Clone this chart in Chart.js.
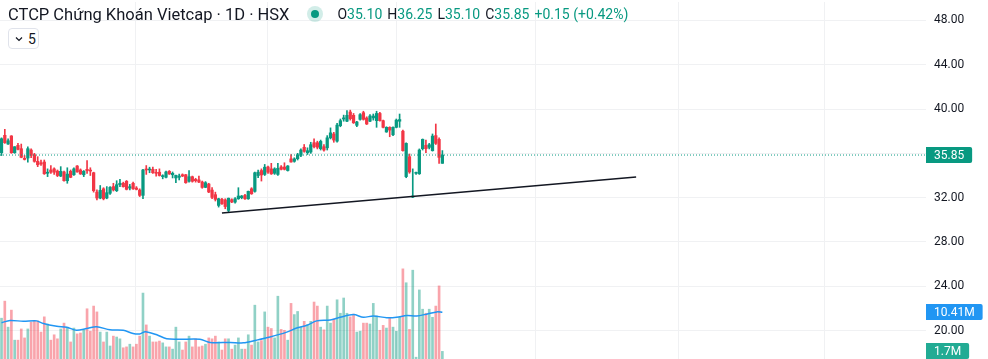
<!DOCTYPE html>
<html>
<head>
<meta charset="utf-8">
<script src="https://cdn.jsdelivr.net/npm/chart.js@4.4.0/dist/chart.umd.min.js"></script>
<style>
  body { margin: 0; background: #fff; font-family: Roboto, "Noto Sans", sans-serif; }
  #wrap { position: relative; width: 988px; height: 359px; }
  canvas { display: block; }
  #legend { position: absolute; left: 8px; top: 4px; height: 20px; display: flex; align-items: center; color: #131722; white-space: nowrap; }
  #legend .title { font-size: 16.5px; }
  #legend .dot { width: 16px; height: 16px; border-radius: 50%; background: rgba(8,153,129,0.18); margin-left: 18px; position: relative; }
  #legend .dot::after { content: ""; position: absolute; left: 4px; top: 4px; width: 8px; height: 8px; border-radius: 50%; background: #089981; }
  #legend .ohlc { font-size: 14px; margin-left: 14px; }
  #legend .ohlc .v { color: #089981; margin-right: 5px; }
  #ind { position: absolute; left: 8px; top: 28px; width: 29px; height: 19px; border: 1px solid #e0e3eb; border-radius: 4px; font-size: 14px; color: #131722; display: flex; align-items: center; background: #fff; }
  #ind svg { margin-left: 6px; margin-right: 5px; }
</style>
</head>
<body>
<div id="wrap">
  <canvas id="chart" width="988" height="359"></canvas>
  <div id="legend">
    <span class="title">CTCP Chứng Khoán Vietcap · 1D · HSX</span>
    <span class="dot"></span>
    <span class="ohlc">O<span class="v">35.10</span>H<span class="v">36.25</span>L<span class="v">35.10</span>C<span class="v">35.85</span><span class="v">+0.15 (+0.42%)</span></span>
  </div>
  <div id="ind"><svg width="8" height="6" viewBox="0 0 8 6"><polyline points="1,1.5 4,4.5 7,1.5" fill="none" stroke="#131722" stroke-width="1.2"/></svg>5</div>
</div>
<script>
// -----------------------------
// Data (daily candles, price in thousand VND, volume in millions)
// -----------------------------
const candleOpen = [
  36.06, 37.63, 36.84, 37.57, 36.06, 36.72, 36.42, 35.55, 35.58, 36.30,
  35.88, 35.28, 35.15, 35.22, 34.20, 34.50, 34.60, 34.40, 33.95, 34.32,
  33.53, 34.38, 34.07, 34.86, 34.50, 34.07, 34.56, 34.48, 34.25, 32.51,
  31.97, 32.80, 31.97, 32.40, 33.00, 32.63, 33.17, 33.30, 33.48, 32.87,
  33.30, 32.87, 32.69, 32.21, 34.56, 34.50, 34.56, 34.25, 34.30, 33.90,
  33.84, 34.38, 34.07, 33.78, 33.84, 34.07, 34.07, 33.48, 33.89, 33.65,
  33.60, 33.41, 32.93, 33.23, 32.69, 32.27, 31.30, 31.85, 31.80, 30.85,
  31.82, 31.60, 31.90, 32.00, 32.20, 31.90, 32.80, 32.57, 34.00, 34.45,
  34.10, 34.77, 34.60, 34.20, 34.10, 34.77, 34.77, 34.45, 35.50, 35.28,
  35.52, 35.82, 36.55, 36.06, 36.12, 36.96, 36.96, 36.42, 36.60, 36.50,
  37.40, 37.75, 37.10, 38.50, 39.10, 38.90, 39.73, 39.43, 38.53, 39.07,
  39.67, 39.19, 38.90, 39.20, 38.95, 39.60, 38.95, 37.93, 38.35, 37.68,
  38.35, 38.90, 38.00, 33.90, 35.70, 32.05, 34.20, 34.16, 36.42, 36.72,
  36.54, 36.24, 37.60, 37.26, 35.10
];
const candleHigh = [
  37.40, 38.17, 37.30, 37.60, 36.60, 36.90, 36.84, 35.80, 36.60, 36.40,
  36.00, 35.70, 35.40, 35.40, 34.60, 34.90, 34.70, 34.50, 34.80, 34.40,
  34.70, 34.50, 34.70, 34.90, 34.60, 34.45, 35.34, 34.70, 34.30, 32.70,
  33.10, 32.90, 33.00, 33.00, 33.30, 33.53, 33.65, 33.40, 33.55, 33.20,
  33.40, 33.00, 32.80, 34.55, 34.90, 34.75, 34.75, 34.56, 34.60, 34.07,
  34.40, 34.45, 34.32, 34.05, 34.13, 34.15, 34.10, 34.44, 33.95, 33.75,
  33.95, 33.50, 33.45, 33.30, 32.90, 32.50, 31.95, 31.95, 31.90, 31.97,
  31.90, 32.00, 32.90, 32.20, 32.30, 32.60, 32.90, 34.30, 34.50, 34.60,
  35.00, 34.85, 35.10, 34.70, 35.10, 34.90, 35.15, 34.90, 35.90, 35.60,
  36.00, 36.40, 36.80, 36.50, 37.00, 37.32, 37.10, 37.20, 36.80, 37.60,
  38.30, 37.90, 38.70, 39.10, 39.45, 39.85, 39.90, 39.60, 38.90, 39.60,
  39.80, 39.30, 39.50, 39.55, 39.80, 39.70, 39.00, 38.40, 38.40, 38.40,
  39.10, 39.55, 38.10, 36.95, 35.94, 34.60, 34.30, 36.40, 37.30, 37.20,
  36.90, 37.75, 38.65, 37.40, 36.25
];
const candleLow = [
  35.80, 36.90, 36.80, 36.00, 36.00, 36.30, 35.60, 35.40, 35.20, 35.60,
  35.20, 34.80, 34.90, 34.10, 33.90, 34.20, 34.10, 33.90, 33.90, 33.50,
  33.30, 33.80, 34.00, 34.30, 34.10, 33.90, 34.20, 34.00, 32.50, 31.80,
  31.90, 31.80, 31.90, 32.30, 32.60, 32.55, 32.99, 32.95, 32.70, 32.70,
  32.75, 32.70, 32.10, 31.90, 34.10, 34.25, 34.20, 33.95, 33.95, 33.70,
  33.78, 34.10, 33.78, 33.35, 33.60, 33.90, 33.30, 33.40, 33.40, 33.40,
  33.35, 32.85, 32.90, 32.45, 31.90, 31.70, 31.15, 31.40, 31.00, 30.70,
  31.55, 31.50, 31.85, 31.90, 31.85, 31.85, 32.30, 32.50, 33.80, 33.50,
  34.00, 34.20, 34.10, 34.10, 34.00, 34.50, 34.50, 34.40, 35.20, 35.20,
  35.40, 35.70, 36.10, 35.90, 36.00, 36.50, 36.40, 36.30, 36.20, 36.30,
  37.30, 37.00, 37.00, 38.40, 38.90, 38.85, 39.00, 38.70, 38.40, 39.00,
  39.00, 38.60, 38.85, 39.00, 38.35, 38.90, 38.30, 37.90, 37.50, 37.60,
  38.30, 38.35, 36.20, 33.80, 34.20, 32.00, 34.10, 34.10, 36.30, 36.06,
  36.40, 36.20, 36.80, 35.10, 35.10
];
const candleClose = [
  37.32, 36.96, 37.14, 36.06, 36.60, 36.36, 35.64, 35.45, 36.42, 35.82,
  35.28, 34.97, 35.04, 34.16, 34.30, 34.30, 34.30, 34.00, 34.38, 33.53,
  34.13, 33.84, 34.60, 34.32, 34.14, 34.38, 34.44, 34.40, 32.63, 31.97,
  32.66, 31.90, 32.45, 32.93, 32.70, 33.17, 33.30, 32.99, 32.75, 32.99,
  32.80, 32.75, 32.21, 34.50, 34.50, 34.56, 34.25, 34.20, 34.00, 33.95,
  34.32, 34.14, 34.20, 34.01, 33.95, 33.95, 33.35, 33.89, 33.48, 33.53,
  33.41, 32.93, 33.35, 32.51, 32.03, 31.85, 31.90, 31.45, 31.20, 31.95,
  31.61, 31.90, 32.15, 32.15, 31.90, 32.57, 32.35, 34.25, 34.30, 34.05,
  34.75, 34.30, 34.15, 34.60, 34.65, 34.56, 34.56, 34.86, 35.22, 35.50,
  35.88, 36.30, 36.18, 36.24, 36.78, 36.60, 36.55, 37.08, 36.30, 37.40,
  37.85, 37.20, 38.55, 38.95, 39.20, 39.43, 39.13, 38.76, 38.83, 39.49,
  39.07, 38.65, 39.37, 39.37, 39.60, 38.95, 38.35, 38.35, 38.10, 38.35,
  39.00, 39.05, 36.24, 36.90, 34.32, 32.15, 34.20, 36.30, 37.26, 36.42,
  36.78, 37.56, 36.90, 35.64, 35.85
];
const volumeM = [
  9.1, 12.9, 7.1, 10.9, 4.2, 4.2, 6.7, 4.7, 6.7, 8.2,
  8.5, 8.5, 6.0, 9.4, 7.8, 4.2, 5.4, 4.5, 6.7, 8.0,
  7.1, 3.8, 6.9, 5.6, 5.8, 6.5, 11.2, 6.2, 11.8, 10.5,
  6.0, 3.8, 6.0, 2.9, 5.1, 4.9, 4.5, 2.5, 2.7, 3.3,
  2.7, 3.3, 5.1, 14.7, 7.6, 5.1, 3.8, 3.8, 4.0, 3.6,
  2.7, 2.7, 2.2, 7.1, 3.8, 2.0, 3.8, 5.1, 2.7, 4.5,
  2.7, 2.9, 3.3, 4.7, 4.5, 5.1, 3.8, 2.0, 4.5, 4.5,
  2.2, 3.1, 4.7, 2.2, 2.2, 5.4, 3.1, 12.0, 3.8, 4.1,
  10.5, 7.1, 6.8, 4.7, 14.0, 6.6, 6.4, 4.2, 12.4, 9.9,
  10.6, 7.1, 8.4, 7.7, 8.4, 12.7, 11.8, 7.1, 6.5, 11.8,
  8.0, 8.9, 13.2, 10.2, 13.6, 10.2, 9.4, 10.0, 6.0, 6.2,
  8.0, 8.0, 7.8, 12.4, 9.6, 6.4, 7.5, 6.9, 9.1, 7.1,
  6.2, 9.3, 20.1, 17.0, 6.6, 19.8, 0.4, 15.4, 11.1, 10.2,
  11.1, 9.3, 11.8, 16.3, 1.7
];
// volume moving average at these bar positions
const maBar = [0, 2.6, 6.6, 10.7, 12.7, 16.8, 19.8, 22.8, 25.9, 28.9, 33, 37, 40, 42, 43.7, 47.2, 50.2, 54.2, 60.3, 63.4,
  69.5, 73.5, 77.5, 81.6, 86.7, 89.7, 92.8, 95.8, 99.9, 102.9, 107, 110, 113, 117.1, 120.1, 123.2, 126.2, 129.2, 132.3, 134];
const maValue = [8.1, 8.6, 8.4, 8.5, 7.9, 7.3, 7.1, 6.4, 6.8, 7.2, 6.5, 6.4, 5.7, 5.6, 6.1, 5.4, 4.5, 4.4, 4.4, 3.7,
  3.7, 3.6, 4.2, 4.9, 6.0, 6.9, 7.5, 8.5, 8.7, 9.3, 9.9, 9.3, 9.6, 9.2, 9.3, 9.7, 9.6, 10.0, 10.5, 10.41];
// hand-drawn trend line (bar position, price)
const trendBar = [67.0, 192.9];
const trendPrice = [30.62, 33.86];
const priceTicks = [20, 24, 28, 32, 36, 40, 44, 48];
const monthLines = [19.0, 62.2, 99.2, 140.9, 183.7, 228.1, 272.5];

const UP = "#089981", DOWN = "#f23645";
const GRID = "#f0f1f3";
const X_MIN = -0.46, X_MAX = 281;

const bars = candleOpen.map((o, i) => i);
const isUp = bars.map(i => candleClose[i] >= candleOpen[i]);
const last = bars.length - 1;
const lastClose = candleClose[last];
const lastMa = maValue[maValue.length - 1];
const lastVol = volumeM[last];

// -----------------------------
// Right side value labels
// -----------------------------
const valueLabels = {
  id: "valueLabels",
  afterDraw(chart) {
    const ctx = chart.ctx;
    const left = chart.chartArea.right;
    const items = [
      { y: chart.scales.y.getPixelForValue(lastClose), text: lastClose.toFixed(2), bg: UP },
      { y: chart.scales.vol.getPixelForValue(lastMa), text: lastMa.toFixed(2) + "M", bg: "#2196f3" },
      { y: chart.scales.vol.getPixelForValue(lastVol), text: lastVol.toFixed(1) + "M", bg: "#22ab94" }
    ];
    ctx.save();
    ctx.font = "12px Roboto, 'Noto Sans', sans-serif";
    ctx.textBaseline = "middle";
    items.forEach(it => {
      const w = ctx.measureText(it.text).width + 16;
      ctx.fillStyle = it.bg;
      ctx.beginPath();
      ctx.roundRect(left, Math.round(it.y) - 8, w, 16, [0, 2, 2, 0]);
      ctx.fill();
      ctx.fillStyle = "#fff";
      ctx.fillText(it.text, left + 8, Math.round(it.y) + 0.5);
    });
    ctx.restore();
  }
};

// no extra room for edge labels: the price pane runs edge to edge
function noEdgePadding(s) {
  s.paddingTop = 0;
  s.paddingBottom = 0;
  s.paddingLeft = 0;
  s.paddingRight = 0;
}

const ctx = document.getElementById("chart").getContext("2d");
const chart = new Chart(ctx, {
  type: "bar",
  data: {
    datasets: [
      {
        type: "line",
        label: "last",
        data: [{ x: X_MIN, y: lastClose }, { x: X_MAX, y: lastClose }],
        borderColor: UP,
        borderWidth: 1,
        borderDash: [1, 2],
        pointRadius: 0,
        yAxisID: "y",
        order: 0
      },
      {
        type: "line",
        label: "trend",
        data: trendBar.map((b, k) => ({ x: b, y: trendPrice[k] })),
        borderColor: "#131722",
        borderWidth: 1.5,
        pointRadius: 0,
        yAxisID: "y",
        order: 1
      },
      {
        label: "body",
        data: bars.map(i => ({ x: i, y: [candleOpen[i], candleClose[i]] })),
        backgroundColor: bars.map(i => isUp[i] ? UP : DOWN),
        barThickness: 2.6,
        minBarLength: 1,
        grouped: false,
        yAxisID: "y",
        order: 2
      },
      {
        label: "wick",
        data: bars.map(i => ({ x: i, y: [candleLow[i], candleHigh[i]] })),
        backgroundColor: bars.map(i => isUp[i] ? UP : DOWN),
        barThickness: 1,
        grouped: false,
        yAxisID: "y",
        order: 3
      },
      {
        type: "line",
        label: "Vol MA",
        data: maBar.map((b, k) => ({ x: b, y: maValue[k] })),
        borderColor: "#2196f3",
        borderWidth: 1.5,
        pointRadius: 0,
        tension: 0.3,
        yAxisID: "vol",
        order: 4
      },
      {
        label: "Volume",
        data: bars.map(i => ({ x: i, y: volumeM[i] })),
        backgroundColor: bars.map(i => isUp[i] ? "rgba(8,153,129,0.45)" : "rgba(242,54,69,0.45)"),
        barThickness: 2,
        grouped: false,
        yAxisID: "vol",
        order: 5
      }
    ]
  },
  options: {
    responsive: false,
    animation: false,
    layout: { padding: { left: 0, right: 0, top: 2, bottom: 0 } },
    plugins: { legend: { display: false }, tooltip: { enabled: false } },
    scales: {
      x: {
        type: "linear",
        min: X_MIN,
        max: X_MAX,
        offset: false,
        afterBuildTicks: s => { s.ticks = monthLines.map(v => ({ value: v })); },
        afterFit: s => { noEdgePadding(s); s.height = 0; },
        ticks: { display: false },
        grid: { color: GRID, drawTicks: false },
        border: { display: false }
      },
      y: {
        position: "right",
        min: 17.44,
        max: 49.66,
        afterBuildTicks: s => { s.ticks = priceTicks.map(v => ({ value: v })); },
        afterFit: s => { noEdgePadding(s); s.width = 62; },
        ticks: {
          color: "#131722",
          font: { size: 12, family: "Roboto, 'Noto Sans', sans-serif" },
          padding: 8,
          callback: v => v.toFixed(2)
        },
        grid: { color: GRID, drawTicks: false },
        border: { display: false }
      },
      vol: {
        display: false,
        min: 0,
        max: 79.6
      }
    }
  },
  plugins: [valueLabels]
});
</script>
</body>
</html>
